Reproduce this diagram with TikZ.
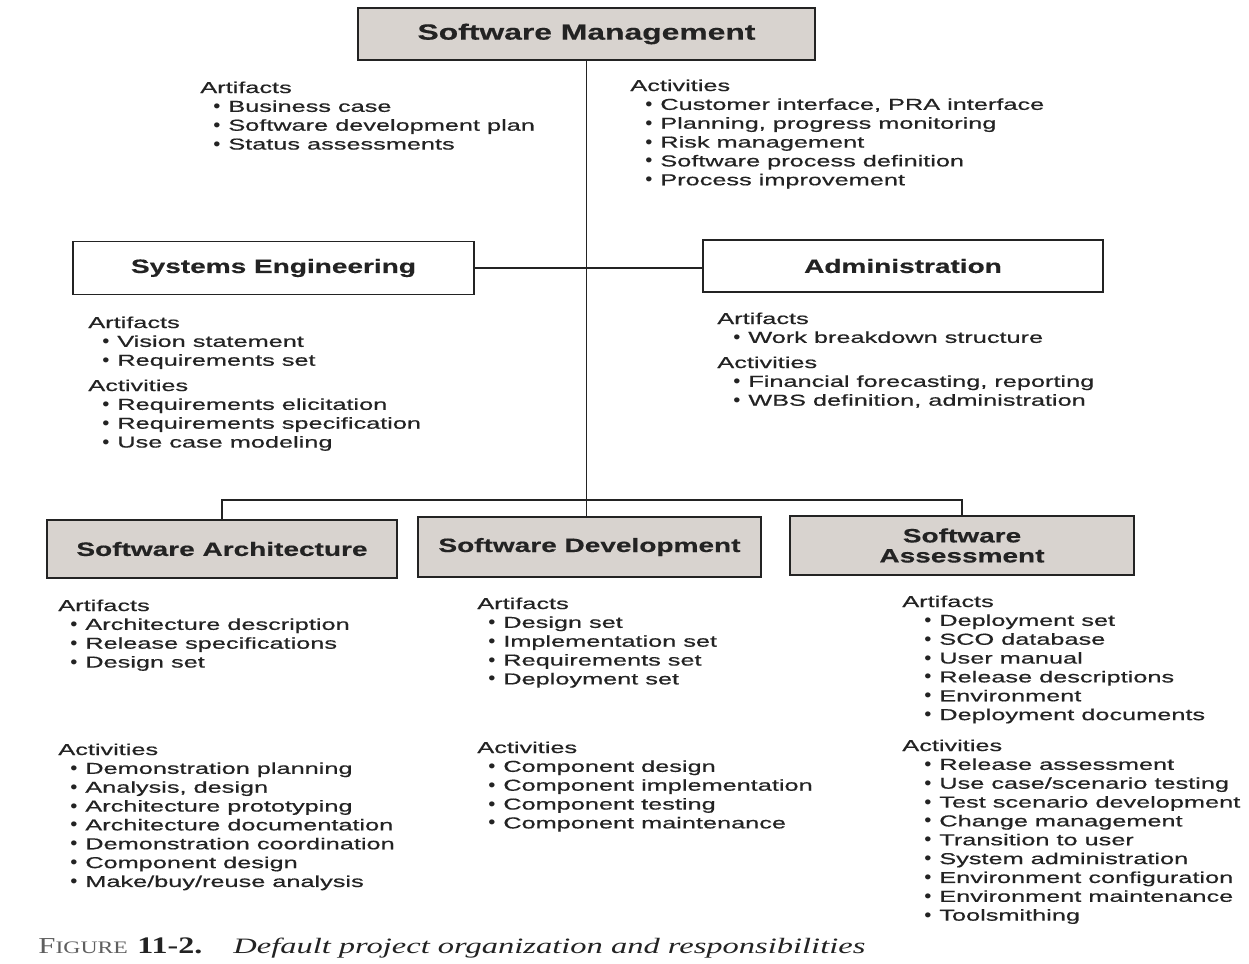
\documentclass[tikz,border=0pt]{standalone}
\usepackage{fontspec}
\newfontfamily\bodyf[FakeStretch=1.6, FakeBold=0.6]{Liberation Sans}
\newfontfamily\bulf[FakeStretch=1.1]{Liberation Sans}
\newfontfamily\titf[FakeStretch=1.45, FakeBold=0.5]{Liberation Sans}
\newfontfamily\capf[FakeStretch=1.35]{Liberation Serif}
\newfontfamily\capif[FakeStretch=1.48]{Liberation Serif}
\definecolor{boxgray}{RGB}{216,211,207}
\definecolor{ink}{RGB}{35,35,35}
\definecolor{capgray}{RGB}{95,95,95}
\tikzset{
  lbl/.style={inner sep=0pt, font=\bodyf\fontsize{9}{10.8}\selectfont, text=ink},
  unit/.style={draw=ink, line width=0.9pt, inner sep=0pt, text=ink, align=center,
    font=\titf\bfseries\fontsize{11}{11.4}\selectfont},
  grayunit/.style={unit, fill=boxgray},
  link/.style={draw=ink, line width=0.8pt}
}
% #1 name, #2 header x, #3 header baseline y, #4 item text x, #5 header, #6 items
\newcommand\respblock[6]{%
  \node[lbl, anchor=base west] (#1) at (#2,#3) {#5};
  \foreach \t [count=\i] in {#6} {
    \node[lbl, anchor=base west] (#1-\i) at (#4-15,#3+\i*18.85)
      {\makebox[0.3cm][l]{{\bulf\fontsize{10.5}{8}\selectfont\raisebox{-0.05ex}{•}}}\t};
  }
}
\begin{document}
\begin{tikzpicture}[x=0.02cm, y=-0.02cm]
\fill[white] (0,0) rectangle (1249,964);
\useasboundingbox (0,0) rectangle (1249,964);

% boxes
\node[grayunit, minimum width=9.14cm, minimum height=1.04cm,
      font=\titf\bfseries\fontsize{12.5}{13}\selectfont] (sm) at (586.5,34) {Software Management};
\node[unit, minimum width=8.02cm, minimum height=1.06cm] (se) at (273.5,268) {Systems Engineering};
\node[unit, minimum width=8.0cm, minimum height=1.04cm] (adm) at (903,266) {Administration};
\node[grayunit, minimum width=7.0cm, minimum height=1.16cm] (sa) at (222,549) {Software Architecture};
\node[grayunit, minimum width=6.86cm, minimum height=1.2cm] (sd) at (589.5,547) {Software Development};
\node[grayunit, minimum width=6.88cm, minimum height=1.18cm] (sas) at (962,545.5) {Software\\Assessment};

% connectors
\coordinate (bar) at (587,500);
\draw[link] (sm.south) -- (sm.south |- sd.north);
\draw[link] (se.east) -- (se.east -| adm.west);
\draw[link] (sa.north) -- (sa.north |- bar) -- (sas.north |- bar) -- (sas.north);

% texts
\respblock{smart}{200}{93}{228}{Artifacts}{Business case, Software development plan, Status assessments}
\respblock{smact}{630}{91}{660}{Activities}{{Customer interface, PRA interface}, {Planning, progress monitoring}, Risk management, Software process definition, Process improvement}
\respblock{seart}{88}{328}{117}{Artifacts}{Vision statement, Requirements set}
\respblock{seact}{88}{391}{117}{Activities}{Requirements elicitation, Requirements specification, Use case modeling}
\respblock{admart}{717}{324}{748}{Artifacts}{Work breakdown structure}
\respblock{admact}{717}{368}{748}{Activities}{{Financial forecasting, reporting}, {WBS definition, administration}}
\respblock{saart}{58}{611}{85}{Artifacts}{Architecture description, Release specifications, Design set}
\respblock{saact}{58}{755}{85}{Activities}{Demonstration planning, {Analysis, design}, Architecture prototyping, Architecture documentation, Demonstration coordination, Component design, Make/buy/reuse analysis}
\respblock{sdart}{477}{609}{503}{Artifacts}{Design set, Implementation set, Requirements set, Deployment set}
\respblock{sdact}{477}{753}{503}{Activities}{Component design, Component implementation, Component testing, Component maintenance}
\respblock{sasart}{902}{607}{939}{Artifacts}{Deployment set, SCO database, User manual, Release descriptions, Environment, Deployment documents}
\respblock{sasact}{902}{751}{939}{Activities}{Release assessment, Use case/scenario testing, Test scenario development, Change management, Transition to user, System administration, Environment configuration, Environment maintenance, Toolsmithing}

% caption
\node[inner sep=0pt, anchor=base west, text=capgray] (caplab) at (38,953)
  {\capf\fontsize{13}{14}\selectfont F\fontsize{10}{14}\selectfont IGURE};
\node[inner sep=0pt, anchor=base west, text=ink] (capnum) at (137,953)
  {\capf\bfseries\fontsize{13.5}{14}\selectfont 11-2.};
\node[inner sep=0pt, anchor=base west, text=ink] (captxt) at (233,953)
  {\capif\itshape\fontsize{12.5}{14}\selectfont Default project organization and responsibilities};
\end{tikzpicture}
\end{document}
